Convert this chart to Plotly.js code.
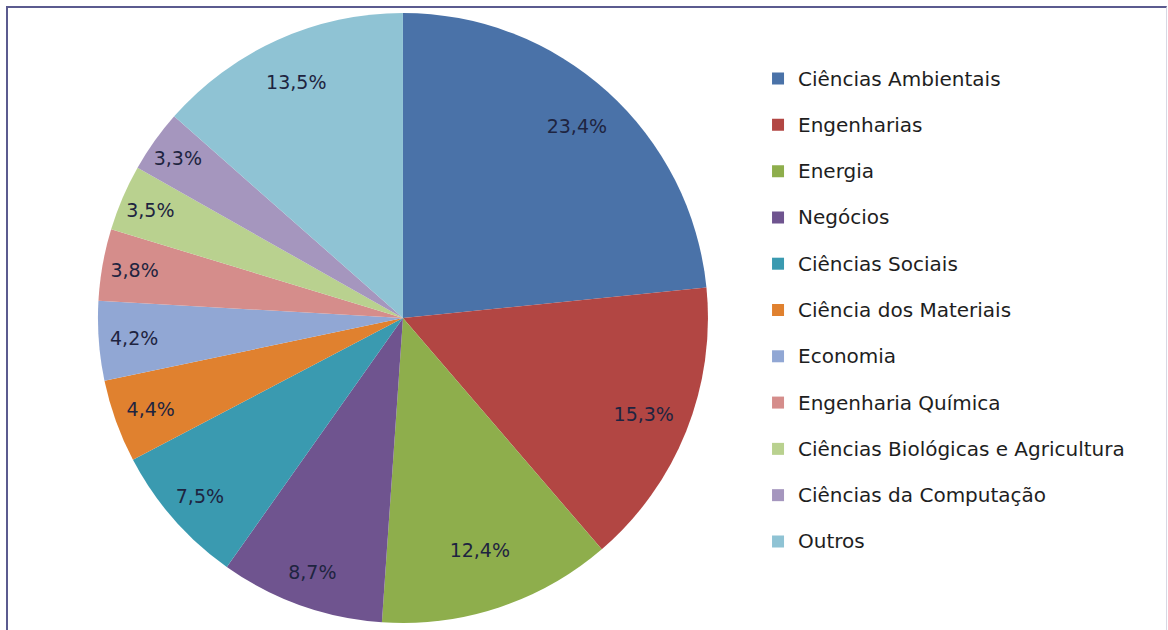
<!DOCTYPE html>
<html>
<head>
<meta charset="utf-8">
<script src="https://cdn.plot.ly/plotly-3.0.1.min.js"></script>
<style>
html,body{margin:0;padding:0;background:#fff;}
#chart{width:1168px;height:630px;}
#frame{position:absolute;left:6px;top:6px;width:1158px;height:640px;border-top:2px solid #5b5b8f;border-left:2px solid #5b5b8f;border-right:1px solid #d8d8e4;pointer-events:none;}
</style>
</head>
<body>
<div id="chart"></div>
<div id="frame"></div>
<script>
const categories = ["Ciências Ambientais","Engenharias","Energia","Negócios","Ciências Sociais","Ciência dos Materiais","Economia","Engenharia Química","Ciências Biológicas e Agricultura","Ciências da Computação","Outros"];
const values = [23.4,15.3,12.4,8.7,7.5,4.4,4.2,3.8,3.5,3.3,13.5];
const valueLabels = ["23,4%","15,3%","12,4%","8,7%","7,5%","4,4%","4,2%","3,8%","3,5%","3,3%","13,5%"];
const colors = ["#4a72a8","#b24643","#8eae4c","#6f548f","#3a9ab0","#e0812f","#91a7d4","#d58d8b","#b9d18f","#a596be","#8fc3d4"];
// style: inner edge of the (invisible) ring on which each slice's label sits
const labelHoles = [0.7,0.7,0.6,0.77,0.77,0.6,0.6,0.6,0.6,0.6,0.7];

const legendLabels = categories.map(c => '<span style="font-size:20px;baseline-shift:6px">' + c + '</span>');
const domain = {x: [0.045, 0.645], y: [0.0111, 0.9794]};

const pieTrace = {
  type: 'pie',
  labels: legendLabels,
  values: values,
  textinfo: 'none',
  sort: false,
  direction: 'clockwise',
  rotation: 0,
  marker: {colors: colors, line: {width: 0}},
  domain: domain,
  hoverinfo: 'label+percent'
};

const traces = [pieTrace];
[...new Set(labelHoles)].forEach(h => {
  traces.push({
    type: 'pie',
    labels: legendLabels,
    values: values,
    text: valueLabels.map((t, i) => labelHoles[i] === h ? t : ''),
    textinfo: 'text',
    textposition: 'inside',
    insidetextorientation: 'horizontal',
    hole: h,
    sort: false,
    direction: 'clockwise',
    rotation: 0,
    showlegend: false,
    marker: {colors: categories.map(() => 'rgba(0,0,0,0)'), line: {width: 0}},
    textfont: {family: 'DejaVu Sans', size: 19, color: '#1e2440'},
    domain: domain,
    hoverinfo: 'skip'
  });
});

const layout = {
  width: 1168, height: 630,
  margin: {l: 0, r: 0, t: 0, b: 0},
  paper_bgcolor: '#ffffff',
  showlegend: true,
  legend: {
    x: 0.649, y: 0.92, xanchor: 'left', yanchor: 'top',
    font: {family: 'DejaVu Sans', size: 33.3, color: '#1e1e1e'},
    bgcolor: 'rgba(0,0,0,0)', itemwidth: 30
  }
};

Plotly.newPlot('chart', traces, layout, {displayModeBar: false, staticPlot: true});
</script>
</body>
</html>
